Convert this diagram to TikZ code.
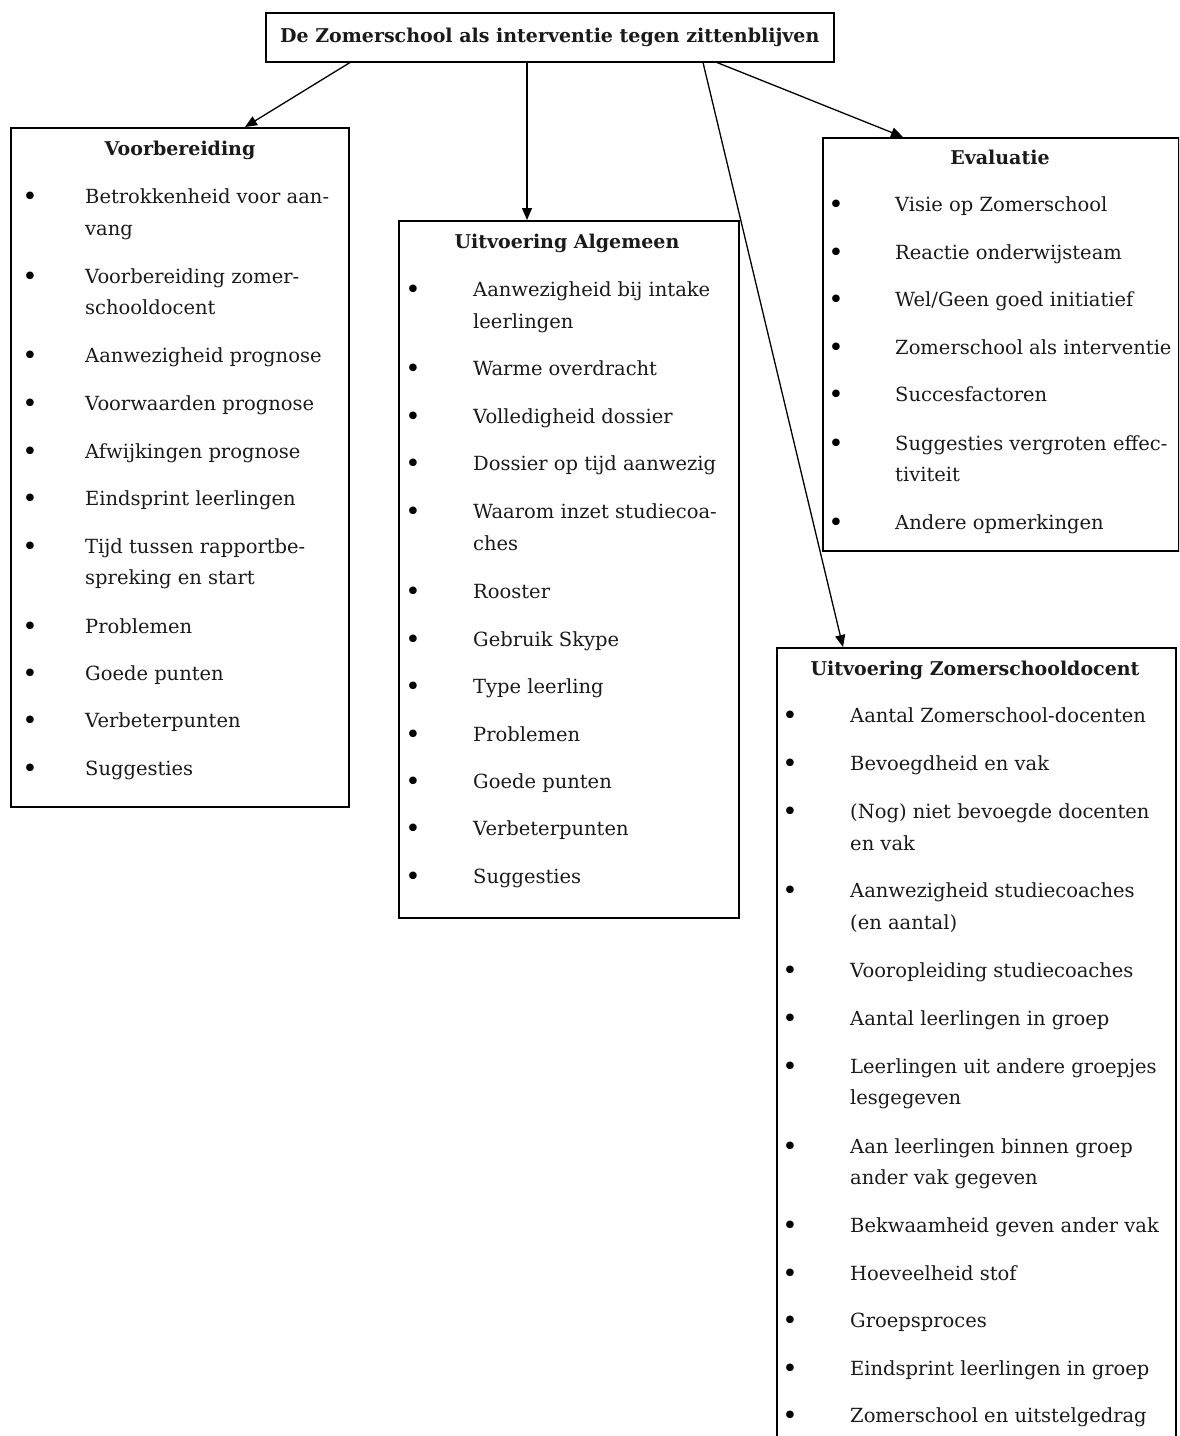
\documentclass[tikz,border=0pt]{standalone}
\usepackage{fontspec}
\setmainfont{DejaVu Serif}
\usetikzlibrary{arrows.meta}
\definecolor{ink}{HTML}{1A1A1A}
\newcommand\zsItem{\fontsize{19.5}{23}\selectfont}
\newcommand\zsBul{\fontsize{26}{26}\selectfont}
\newcommand\zsTitle{\fontsize{19}{23}\selectfont\bfseries}
\newcommand\zsTop{\fontsize{19}{23}\selectfont\bfseries}
\tikzset{
  box/.style={draw=black, line width=1.5pt, rectangle, inner sep=0pt, anchor=north west},
  itemtxt/.style={anchor=base west, inner sep=0pt, font=\zsItem, text=ink, yshift=-6pt},
  bul/.style={anchor=base, inner sep=0pt, font=\zsBul, text=black, yshift=-8pt},
  ttl/.style={anchor=base, inner sep=0pt, font=\zsTitle, text=ink, yshift=-7pt},
  arr/.style={draw=black, line width=1.3pt, -{Triangle[length=12pt,width=10pt]}}
}
\begin{document}
\begin{tikzpicture}[x=1pt,y=-1pt]
\clip (0,0) rectangle (1179,1436);
\fill[white] (0,0) rectangle (1179,1436);
% top box
\node[box, minimum width=568pt, minimum height=49pt, font=\zsTop, text=ink] (top) at (265,12) {De Zomerschool als interventie tegen zittenblijven};
% boxes
\node[box, minimum width=338pt, minimum height=679pt] (voor) at (10,127) {};
\node[box, minimum width=340pt, minimum height=697pt] (ua) at (398,220) {};
\node[box, minimum width=356pt, minimum height=413pt] (ev) at (822,137) {};
\node[box, minimum width=399pt, minimum height=810pt] (uz) at (776,647) {};
% titles
\node[ttl] (voorT) at (180,148) {Voorbereiding};
\node[ttl] (uaT) at (567,241) {Uitvoering Algemeen};
\node[ttl] (evT) at (1000,157) {Evaluatie};
\node[ttl] (uzT) at (975,668) {Uitvoering Zomerschooldocent};
% Voorbereiding
\foreach \y/\t [count=\i] in {197/{Betrokkenheid voor aan-},277/{Voorbereiding zomer-},356/{Aanwezigheid prognose},404/{Voorwaarden prognose},452/{Afwijkingen prognose},499/{Eindsprint leerlingen},547/{Tijd tussen rapportbe-},627/{Problemen},674/{Goede punten},721/{Verbeterpunten},769/{Suggesties}}{
  \node[bul] (vb\i) at (30,\y) {•};
  \node[itemtxt] (vt\i) at (85,\y) {\t};
}
\foreach \y/\t [count=\i] in {229/{vang},308/{schooldocent},578/{spreking en start}}
  \node[itemtxt] (vc\i) at (85,\y) {\t};
% Uitvoering Algemeen
\foreach \y/\t [count=\i] in {290/{Aanwezigheid bij intake},369/{Warme overdracht},417/{Volledigheid dossier},464/{Dossier op tijd aanwezig},512/{Waarom inzet studiecoa-},592/{Rooster},640/{Gebruik Skype},687/{Type leerling},735/{Problemen},782/{Goede punten},829/{Verbeterpunten},877/{Suggesties}}{
  \node[bul] (ab\i) at (413,\y) {•};
  \node[itemtxt] (at\i) at (473,\y) {\t};
}
\foreach \y/\t [count=\i] in {322/{leerlingen},544/{ches}}
  \node[itemtxt] (ac\i) at (473,\y) {\t};
% Evaluatie
\foreach \y/\t [count=\i] in {205/{Visie op Zomerschool},253/{Reactie onderwijsteam},300/{Wel/Geen goed initiatief},348/{Zomerschool als interventie},395/{Succesfactoren},444/{Suggesties vergroten effec-},523/{Andere opmerkingen}}{
  \node[bul] (eb\i) at (836,\y) {•};
  \node[itemtxt] (et\i) at (895,\y) {\t};
}
\node[itemtxt] (ec1) at (895,475) {tiviteit};
% Uitvoering Zomerschooldocent
\foreach \y/\t [count=\i] in {716/{Aantal Zomerschool-docenten},764/{Bevoegdheid en vak},812/{(Nog) niet bevoegde docenten},891/{Aanwezigheid studiecoaches},971/{Vooropleiding studiecoaches},1019/{Aantal leerlingen in groep},1067/{Leerlingen uit andere groepjes},1147/{Aan leerlingen binnen groep},1226/{Bekwaamheid geven ander vak},1274/{Hoeveelheid stof},1321/{Groepsproces},1369/{Eindsprint leerlingen in groep},1416/{Zomerschool en uitstelgedrag}}{
  \node[bul] (zb\i) at (790,\y) {•};
  \node[itemtxt] (zt\i) at (850,\y) {\t};
}
\foreach \y/\t [count=\i] in {844/{en vak},923/{(en aantal)},1098/{lesgegeven},1178/{ander vak gegeven}}
  \node[itemtxt] (zc\i) at (850,\y) {\t};
% connectors
\draw[arr] ([xshift=85pt]top.south west) -- ([xshift=235pt]voor.north west);
\draw[arr] ([xshift=262pt]top.south west) -- ([xshift=129pt]ua.north west);
\draw[arr] ([xshift=438pt]top.south west) -- ([xshift=67pt]uz.north west);
\draw[arr] ([xshift=452pt]top.south west) -- ([xshift=81pt]ev.north west);
\end{tikzpicture}
\end{document}
